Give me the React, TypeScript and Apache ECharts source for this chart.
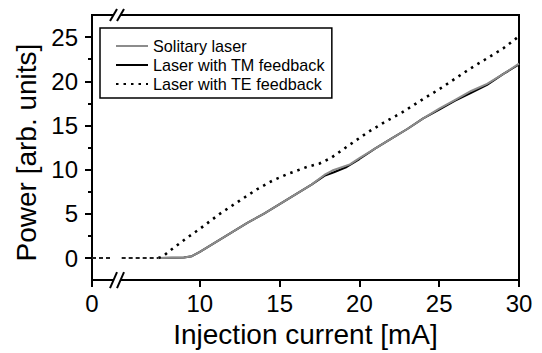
import React, { useEffect, useRef } from 'react';
import * as echarts from 'echarts';

const seriesNames = ['Solitary laser', 'Laser with TM feedback', 'Laser with TE feedback'];
const xTickValues = [0, 10, 15, 20, 25, 30];
const yTickValues = [0, 5, 10, 15, 20, 25];
const yMinorTickValues = [2.5, 7.5, 12.5, 17.5, 22.5];
const xBreak = [1.63, 4.87];
const xRange = [0, 30];
const yRange = [-2.5, 27.5];

const solitary: [number, number][] = [
  [7.5, 0], [9.0, 0.05], [9.5, 0.2], [10, 0.7], [11, 1.8], [12, 2.9], [13, 4.0], [14, 5.0],
  [15, 6.1], [16, 7.2], [17, 8.3], [17.8, 9.4], [18.3, 9.9], [19.4, 10.6], [20, 11.3],
  [21, 12.4], [22, 13.5], [23, 14.6], [24, 15.8], [25, 16.9], [26, 17.9], [27, 18.9],
  [28, 19.7], [29, 20.8], [30, 22.0],
];

const tmFeedback: [number, number][] = [
  [7.5, 0], [9.0, 0.05], [9.5, 0.2], [10, 0.7], [11, 1.8], [12, 2.9], [13, 4.0], [14, 5.0],
  [15, 6.1], [16, 7.2], [17, 8.3], [17.8, 9.3], [18.4, 9.7], [19.2, 10.3], [20, 11.2],
  [21, 12.4], [22, 13.5], [23, 14.6], [24, 15.8], [25, 16.8], [26, 17.8], [27, 18.7],
  [28, 19.6], [29, 20.8], [30, 21.9],
];

const teFeedback: [number, number][] = [
  [7.4, 0], [7.7, 0.2], [8.1, 0.8], [9.2, 2.3], [10, 3.3], [11.25, 5.0], [12.5, 6.5],
  [13.6, 7.8], [14.6, 8.8], [15.5, 9.5], [16.7, 10.3], [17.5, 10.7], [18.2, 11.3],
  [19.3, 12.7], [20.5, 14.2], [21.5, 15.3], [22.7, 16.5], [24, 18.0], [25, 19.1],
  [26, 20.3], [27, 21.5], [28, 22.6], [29, 23.7], [30, 25.1],
];

const belowThreshold: (number | string)[][] = [
  [0, 0], [1.3, 0], [3, '-'], [5.1, 0], [7.4, 0],
];

const FONT = '"Liberation Sans", Arial, Helvetica, sans-serif';

export default function App() {
  const ref = useRef<HTMLDivElement>(null);

  useEffect(() => {
    if (!ref.current) return;
    const chart = echarts.init(ref.current, null, { renderer: 'svg' });
    const option: any = {
      animation: false,
      backgroundColor: '#fff',
      grid: {
        left: 92, right: 23, top: 15, bottom: 70,
        show: true, borderColor: '#000', borderWidth: 2, backgroundColor: 'transparent',
      },
      legend: {
        data: seriesNames,
        orient: 'vertical',
        left: 100, top: 28,
        padding: [10, 7, 6, 15],
        itemWidth: 32, itemHeight: 14, itemGap: 3,
        backgroundColor: '#fff',
        borderColor: '#000', borderWidth: 1.5, borderRadius: 0,
        itemStyle: { opacity: 0 },
        textStyle: { fontSize: 16.2, lineHeight: 14, fontFamily: FONT, color: '#000' },
      },
      xAxis: {
        type: 'value',
        min: xRange[0], max: xRange[1],
        breaks: [{ start: xBreak[0], end: xBreak[1], gap: 0 }],
        breakArea: { show: false },
        axisLine: { onZero: false, lineStyle: { color: '#000', width: 2 } },
        axisTick: { show: true, customValues: xTickValues, length: 7, lineStyle: { color: '#000', width: 2 } },
        axisLabel: { customValues: xTickValues, color: '#000', fontSize: 24, fontFamily: FONT, margin: 11 },
        splitLine: { show: false },
        name: 'Injection current [mA]',
        nameLocation: 'middle', nameGap: 34,
        nameTextStyle: { fontSize: 28, fontFamily: FONT, color: '#000' },
      },
      yAxis: [
        {
          type: 'value',
          min: yRange[0], max: yRange[1],
          axisLine: { onZero: false, lineStyle: { color: '#000', width: 2 } },
          axisTick: { show: true, customValues: yTickValues, length: 7, lineStyle: { color: '#000', width: 2 } },
          axisLabel: { customValues: yTickValues, color: '#000', fontSize: 24, fontFamily: FONT, margin: 14 },
          splitLine: { show: false },
          name: 'Power [arb. units]',
          nameLocation: 'middle', nameGap: 51,
          nameTextStyle: { fontSize: 28, fontFamily: FONT, color: '#000', padding: [0, 10, 0, 0] },
        },
        {
          type: 'value',
          position: 'left',
          min: yRange[0], max: yRange[1],
          axisLine: { show: false, onZero: false },
          axisTick: { show: true, customValues: yMinorTickValues, length: 4, lineStyle: { color: '#000', width: 2 } },
          axisLabel: { show: false },
          splitLine: { show: false },
        },
      ],
      series: [
        {
          name: seriesNames[1], type: 'line', data: tmFeedback, yAxisIndex: 0,
          symbol: 'none', showSymbol: false, smooth: false,
          lineStyle: { color: '#000', width: 2 }, itemStyle: { color: '#000' }, z: 2,
        },
        {
          name: seriesNames[0], type: 'line', data: solitary, yAxisIndex: 0,
          symbol: 'none', showSymbol: false,
          lineStyle: { color: '#8c8c8c', width: 2 }, itemStyle: { color: '#8c8c8c' }, z: 3,
        },
        {
          name: seriesNames[2], type: 'line', data: teFeedback, yAxisIndex: 0,
          symbol: 'none', showSymbol: false,
          lineStyle: { color: '#000', width: 2.6, type: [2.5, 5] }, itemStyle: { color: '#000' }, z: 4,
        },
        {
          name: 'below threshold', type: 'line', data: belowThreshold, yAxisIndex: 0,
          symbol: 'none', showSymbol: false, connectNulls: false,
          lineStyle: { color: '#222', width: 2, type: [4, 3] }, itemStyle: { color: '#222' }, z: 4,
        },
      ],
    };
    chart.setOption(option);

    const bx = chart.convertToPixel({ xAxisIndex: 0 }, xBreak[0]) as number;
    const yb = chart.convertToPixel({ yAxisIndex: 0 }, yRange[0]) as number;
    const yt = chart.convertToPixel({ yAxisIndex: 0 }, yRange[1]) as number;
    const breakMark = (y: number, h: number) => [
      { type: 'rect', shape: { x: bx - 5, y: y - 3, width: 8, height: 6 }, style: { fill: '#fff' }, z: 100 },
      { type: 'line', shape: { x1: bx - 8, y1: y + h, x2: bx - 1, y2: y - h }, style: { stroke: '#000', lineWidth: 2 }, z: 101 },
      { type: 'line', shape: { x1: bx - 1, y1: y + h, x2: bx + 6, y2: y - h }, style: { stroke: '#000', lineWidth: 2 }, z: 101 },
    ];
    if (isFinite(bx)) {
      chart.setOption({ graphic: [...breakMark(yb, 8), ...breakMark(yt, 6)] });
    }

    return () => chart.dispose();
  }, []);

  return (
    <div
      ref={ref}
      style={{ position: 'fixed', left: 0, top: 0, width: 542, height: 353, background: '#fff' }}
    />
  );
}
